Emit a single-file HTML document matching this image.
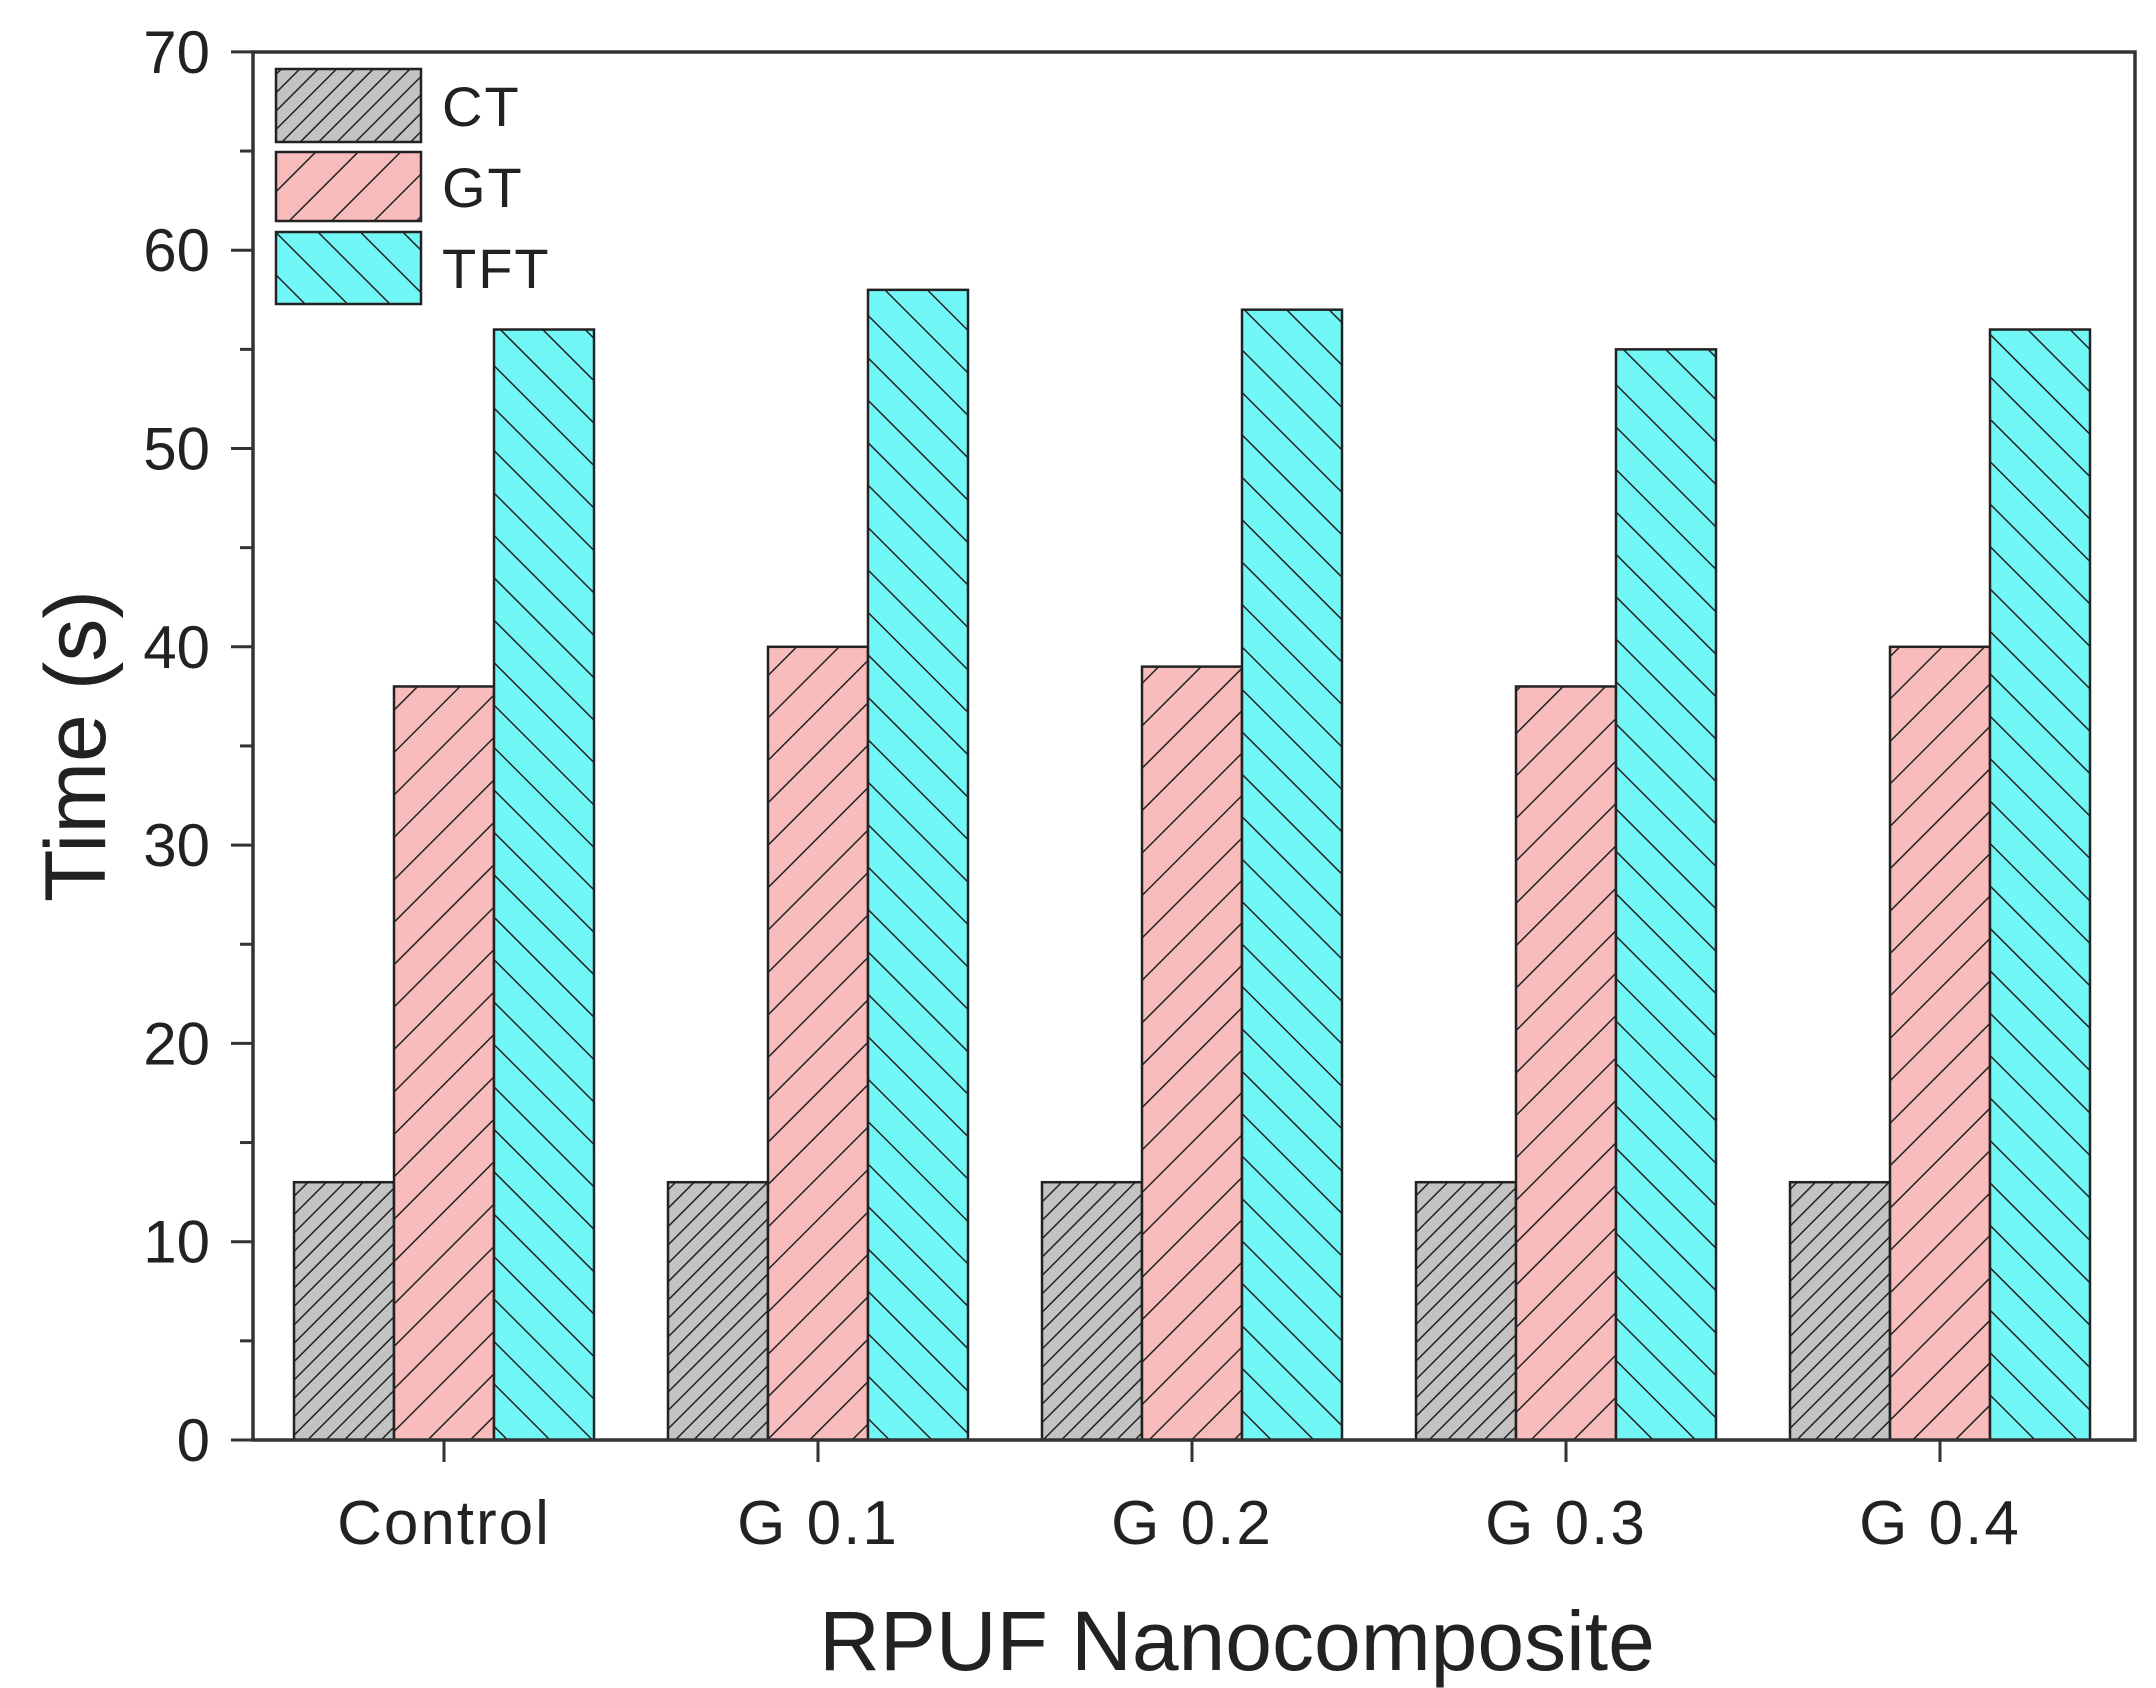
<!DOCTYPE html>
<html><head><meta charset="utf-8"><style>html,body{margin:0;padding:0;background:#fff}svg{display:block}</style></head>
<body>
<svg width="2156" height="1688" viewBox="0 0 2156 1688" xmlns="http://www.w3.org/2000/svg" font-family="Liberation Sans, Arial, sans-serif">
<defs>
<pattern id="pc" patternUnits="userSpaceOnUse" width="13" height="13" patternTransform="rotate(45)">
<rect width="13" height="13" fill="#c3c3c3"/><line x1="0" y1="0" x2="0" y2="13" stroke="#222" stroke-width="3"/></pattern>
<pattern id="pg" patternUnits="userSpaceOnUse" width="30" height="30" patternTransform="rotate(45)">
<rect width="30" height="30" fill="#f8bcbc"/><line x1="0" y1="0" x2="0" y2="30" stroke="#222" stroke-width="3"/></pattern>
<pattern id="pt" patternUnits="userSpaceOnUse" width="30" height="30" patternTransform="rotate(-45)">
<rect width="30" height="30" fill="#72f7f7"/><line x1="0" y1="0" x2="0" y2="30" stroke="#222" stroke-width="3"/></pattern>
</defs>
<g id="bars" stroke="#222" stroke-width="2.5"></g>
<rect x="253" y="52" width="1882" height="1388" fill="none" stroke="#333" stroke-width="3.5"/>
<g id="ax" stroke="#333" stroke-width="3"></g>
<g id="yl" font-size="60" fill="#222" text-anchor="end"></g>
<g id="xl" font-size="62" fill="#222" text-anchor="middle" letter-spacing="2"></g>
<text x="1237" y="1670" font-size="84" fill="#222" text-anchor="middle">RPUF Nanocomposite</text>
<text transform="translate(105,746) rotate(-90)" font-size="86" fill="#222" text-anchor="middle">Time (s)</text>
<g stroke="#222" stroke-width="2.5">
<rect x="276" y="69" width="145" height="73" fill="url(#pc)"/>
<rect x="276" y="152" width="145" height="69" fill="url(#pg)"/>
<rect x="276" y="232" width="145" height="72" fill="url(#pt)"/>
</g>
<g font-size="56" fill="#222" letter-spacing="2">
<text x="442" y="126">CT</text>
<text x="442" y="207">GT</text>
<text x="442" y="288">TFT</text>
</g>
<script>
var ns="http://www.w3.org/2000/svg";
function el(p,t,a,txt){var e=document.createElementNS(ns,t);for(var k in a)e.setAttribute(k,a[k]);if(txt)e.textContent=txt;p.appendChild(e);}
var y0=1440,sc=198.3/10;
var bars=document.getElementById('bars'),ax=document.getElementById('ax'),yl=document.getElementById('yl'),xl=document.getElementById('xl');
var GT=[38,40,39,38,40],TFT=[56,58,57,55,56],names=['Control','G 0.1','G 0.2','G 0.3','G 0.4'];
for(var i=0;i<5;i++){var x=294+i*374,w=100;
[[13,'pc'],[GT[i],'pg'],[TFT[i],'pt']].forEach(function(d,j){var h=d[0]*sc;el(bars,'rect',{x:x+j*w,y:y0-h,width:w,height:h,fill:'url(#'+d[1]+')'});});
var cx=x+1.5*w;el(ax,'line',{x1:cx,y1:y0,x2:cx,y2:y0+22});el(xl,'text',{x:cx,y:1544},names[i]);}
for(var v=0;v<=70;v+=5){var y=y0-v*sc;var L=v%10==0?22:13;el(ax,'line',{x1:253-L,y1:y,x2:253,y2:y});
if(v%10==0)el(yl,'text',{x:210,y:y+21},String(v));}
</script>
</svg>
</body></html>
